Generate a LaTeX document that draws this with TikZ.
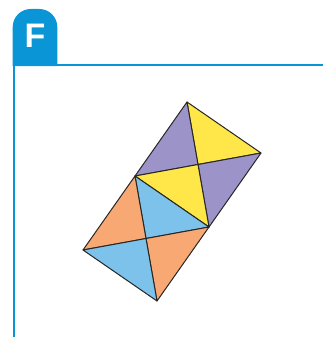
\documentclass[tikz,border=0pt]{standalone}
\usepackage{fontspec}
\setmainfont{Liberation Sans}
\usetikzlibrary{calc}
\definecolor{tabblue}{HTML}{0A96D6}
\definecolor{lilac}{HTML}{9C94C8}
\definecolor{lemon}{HTML}{FFE74A}
\definecolor{peach}{HTML}{F8A872}
\definecolor{sky}{HTML}{7DC2EA}
\begin{document}
\begin{tikzpicture}[x=1pt, y=-1pt,
    tri/.style={draw=black!85, line width=1pt, line join=round}]
  \useasboundingbox (0,0) rectangle (323,337);
  % Tab
  \fill[tabblue] (12.7,66) [rounded corners=18pt] -- (12.7,9) -- (57.3,9)
    [sharp corners] -- (57.3,66) -- cycle;
  \node[text=white, font=\bfseries\fontsize{34}{34}\selectfont] (tabF) at (35,36) {F};
  % Frame
  \draw[tabblue, line width=2.7pt] (14,337) -- (14,65) -- (323,65);
  % Corners of the two squares
  \coordinate (top) at (187,102);
  \coordinate (right) at (261,153);
  \coordinate (midL) at (135,176);
  \coordinate (midR) at (209,227);
  \coordinate (lowL) at (83,250);
  \coordinate (bottom) at (157,301);
  \coordinate (c1) at ($(top)!0.5!(midR)$);
  \coordinate (c2) at ($(midL)!0.5!(bottom)$);
  % Upper square
  \filldraw[tri, fill=lemon] (top) -- (right) -- (c1) -- cycle;
  \filldraw[tri, fill=lilac] (top) -- (midL) -- (c1) -- cycle;
  \filldraw[tri, fill=lilac] (right) -- (midR) -- (c1) -- cycle;
  \filldraw[tri, fill=lemon] (midL) -- (midR) -- (c1) -- cycle;
  % Lower square
  \filldraw[tri, fill=sky] (midL) -- (midR) -- (c2) -- cycle;
  \filldraw[tri, fill=peach] (midL) -- (lowL) -- (c2) -- cycle;
  \filldraw[tri, fill=peach] (midR) -- (bottom) -- (c2) -- cycle;
  \filldraw[tri, fill=sky] (lowL) -- (bottom) -- (c2) -- cycle;
\end{tikzpicture}
\end{document}
